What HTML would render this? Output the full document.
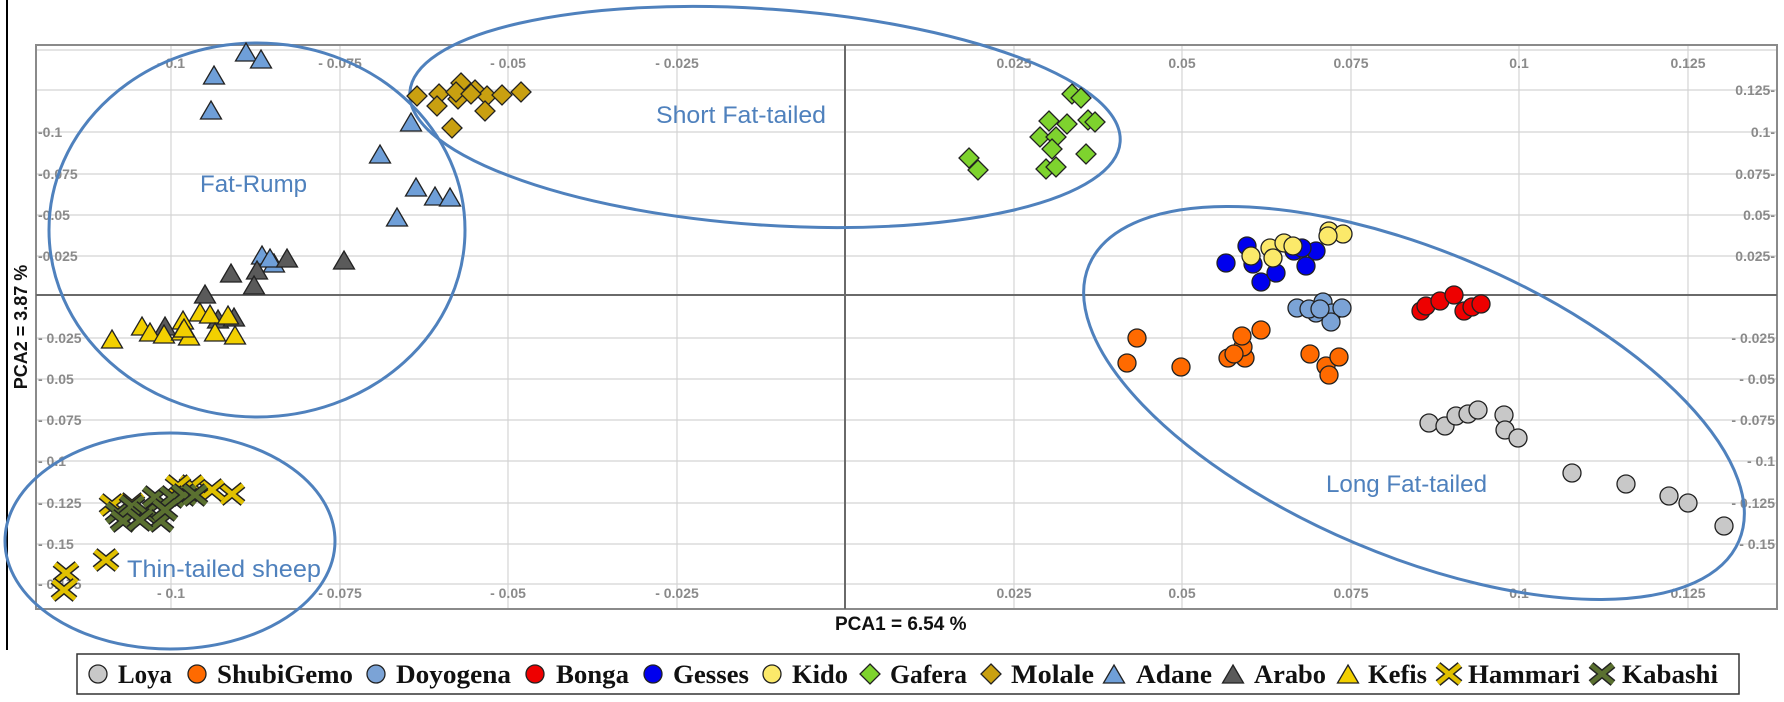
<!DOCTYPE html>
<html><head><meta charset="utf-8"><style>
html,body{margin:0;padding:0;background:#fff;}
svg{display:block;}
.tk{font-family:"Liberation Sans",sans-serif;font-size:14px;font-weight:bold;fill:#8a8a8a;}
.lb{font-family:"Liberation Sans",sans-serif;font-size:24px;fill:#4f81bd;}
.lg{font-family:"Liberation Serif",serif;font-size:26px;font-weight:bold;fill:#111;}
</style></head><body>
<svg width="1784" height="702" viewBox="0 0 1784 702" xmlns="http://www.w3.org/2000/svg">
<defs>
<polygon id="tri" points="0,-10 10.5,8 -10.5,8" stroke="#222" stroke-width="1.3"/>
<polygon id="dia" points="0,-10 10,0 0,10 -10,0" stroke="#222" stroke-width="1.3"/>
<g id="xm"><path d="M-11,-9 L11,9 M-11,9 L11,-9" stroke="#222" stroke-width="7.5"/><path d="M-11,-9 L11,9 M-11,9 L11,-9" stroke="currentColor" stroke-width="4.5"/></g>
</defs>
<line x1="7" y1="0" x2="7" y2="650" stroke="#000" stroke-width="2"/>
<g stroke="#d4d4d4" stroke-width="1.2">
<line x1="171" y1="45" x2="171" y2="609"/><line x1="340" y1="45" x2="340" y2="609"/><line x1="508" y1="45" x2="508" y2="609"/><line x1="677" y1="45" x2="677" y2="609"/>
<line x1="1014" y1="45" x2="1014" y2="609"/><line x1="1182" y1="45" x2="1182" y2="609"/><line x1="1351" y1="45" x2="1351" y2="609"/><line x1="1519" y1="45" x2="1519" y2="609"/><line x1="1688" y1="45" x2="1688" y2="609"/>
<line x1="36" y1="90" x2="1777" y2="90"/><line x1="36" y1="132" x2="1777" y2="132"/><line x1="36" y1="174" x2="1777" y2="174"/><line x1="36" y1="215" x2="1777" y2="215"/><line x1="36" y1="256" x2="1777" y2="256"/>
<line x1="36" y1="338" x2="1777" y2="338"/><line x1="36" y1="379" x2="1777" y2="379"/><line x1="36" y1="420" x2="1777" y2="420"/><line x1="36" y1="461" x2="1777" y2="461"/><line x1="36" y1="503" x2="1777" y2="503"/><line x1="36" y1="544" x2="1777" y2="544"/><line x1="36" y1="584" x2="1777" y2="584"/>
<line x1="36" y1="50" x2="1777" y2="50"/>
</g>
<rect x="36" y="45" width="1741" height="564" fill="none" stroke="#8a8a8a" stroke-width="2"/>
<line x1="845" y1="45" x2="845" y2="609" stroke="#6a6a6a" stroke-width="2"/>
<line x1="36" y1="295" x2="1777" y2="295" stroke="#6a6a6a" stroke-width="2"/>
<g class="tk" text-anchor="middle">
<text x="171" y="68">- 0.1</text><text x="340" y="68">- 0.075</text><text x="508" y="68">- 0.05</text><text x="677" y="68">- 0.025</text>
<text x="1014" y="68">0.025</text><text x="1182" y="68">0.05</text><text x="1351" y="68">0.075</text><text x="1519" y="68">0.1</text><text x="1688" y="68">0.125</text>
<text x="171" y="598">- 0.1</text><text x="340" y="598">- 0.075</text><text x="508" y="598">- 0.05</text><text x="677" y="598">- 0.025</text>
<text x="1014" y="598">0.025</text><text x="1182" y="598">0.05</text><text x="1351" y="598">0.075</text><text x="1519" y="598">0.1</text><text x="1688" y="598">0.125</text>
</g>
<g class="tk">
<text x="38" y="137">-0.1</text><text x="38" y="179">-0.075</text><text x="38" y="220">-0.05</text><text x="38" y="261">-0.025</text>
<text x="38" y="343">- 0.025</text><text x="38" y="384">- 0.05</text><text x="38" y="425">- 0.075</text><text x="38" y="466">- 0.1</text><text x="38" y="508">- 0.125</text><text x="38" y="549">- 0.15</text><text x="38" y="589">- 0.175</text>
</g>
<g class="tk" text-anchor="end">
<text x="1775" y="95">0.125-</text><text x="1775" y="137">0.1-</text><text x="1775" y="179">0.075-</text><text x="1775" y="220">0.05-</text><text x="1775" y="261">0.025-</text>
<text x="1775" y="343">- 0.025</text><text x="1775" y="384">- 0.05</text><text x="1775" y="425">- 0.075</text><text x="1775" y="466">- 0.1</text><text x="1775" y="508">- 0.125</text><text x="1775" y="549">- 0.15</text>
</g>
<text transform="translate(27,327) rotate(-90)" text-anchor="middle" style="font-family:'Liberation Sans',sans-serif;font-size:18px;font-weight:bold;fill:#111">PCA2 = 3.87 %</text>
<text x="835" y="630" style="font-family:'Liberation Sans',sans-serif;font-size:19px;font-weight:bold;fill:#111">PCA1 = 6.54 %</text>
<g fill="none" stroke="#4f81bd" stroke-width="3">
<ellipse cx="257" cy="230" rx="208" ry="187"/>
<ellipse cx="170" cy="541" rx="165" ry="108"/>
<ellipse cx="765" cy="117" rx="356" ry="108" transform="rotate(4 765 117)"/>
<ellipse cx="1414" cy="403" rx="353" ry="152" transform="rotate(23 1414 403)"/>
</g>
<g fill="#c9a010">
<use href="#dia" x="417" y="96"/><use href="#dia" x="439" y="94"/><use href="#dia" x="437" y="106"/><use href="#dia" x="458" y="99"/><use href="#dia" x="461" y="83"/><use href="#dia" x="475" y="90"/><use href="#dia" x="487" y="96"/><use href="#dia" x="502" y="95"/><use href="#dia" x="521" y="92"/><use href="#dia" x="485" y="111"/><use href="#dia" x="452" y="128"/><use href="#dia" x="456" y="92"/><use href="#dia" x="471" y="94"/>
</g>
<g fill="#7ed32e">
<use href="#dia" x="1072" y="94"/><use href="#dia" x="1081" y="98"/><use href="#dia" x="1049" y="121"/><use href="#dia" x="1067" y="124"/><use href="#dia" x="1088" y="120"/><use href="#dia" x="1095" y="122"/><use href="#dia" x="1040" y="137"/><use href="#dia" x="1056" y="137"/><use href="#dia" x="1052" y="149"/><use href="#dia" x="1086" y="154"/><use href="#dia" x="969" y="158"/><use href="#dia" x="978" y="170"/><use href="#dia" x="1046" y="169"/><use href="#dia" x="1056" y="167"/>
</g>
<g fill="#6f9fd8">
<use href="#tri" x="246" y="53"/><use href="#tri" x="261" y="60"/><use href="#tri" x="214" y="76"/><use href="#tri" x="211" y="111"/><use href="#tri" x="411" y="123"/><use href="#tri" x="380" y="155"/><use href="#tri" x="416" y="188"/><use href="#tri" x="435" y="197"/><use href="#tri" x="450" y="198"/><use href="#tri" x="397" y="218"/><use href="#tri" x="262" y="256"/><use href="#tri" x="274" y="264"/><use href="#tri" x="270" y="259"/>
</g>
<g fill="#5a5a5a">
<use href="#tri" x="344" y="261"/><use href="#tri" x="287" y="259"/><use href="#tri" x="231" y="274"/><use href="#tri" x="257" y="271"/><use href="#tri" x="254" y="286"/><use href="#tri" x="205" y="295"/><use href="#tri" x="218" y="320"/><use href="#tri" x="234" y="318"/><use href="#tri" x="165" y="327"/>
</g>
<g fill="#f2d000">
<use href="#tri" x="112" y="340"/><use href="#tri" x="142" y="327"/><use href="#tri" x="150" y="333"/><use href="#tri" x="164" y="335"/><use href="#tri" x="183" y="321"/><use href="#tri" x="182" y="332"/><use href="#tri" x="189" y="337"/><use href="#tri" x="200" y="313"/><use href="#tri" x="210" y="315"/><use href="#tri" x="215" y="333"/><use href="#tri" x="228" y="316"/><use href="#tri" x="235" y="336"/><use href="#tri" x="184" y="329"/>
</g>
<g color="#e0c000">
<use href="#xm" x="232" y="494"/><use href="#xm" x="212" y="490"/><use href="#xm" x="192" y="486"/><use href="#xm" x="178" y="486"/><use href="#xm" x="106" y="560"/><use href="#xm" x="66" y="573"/><use href="#xm" x="64" y="590"/><use href="#xm" x="132" y="504"/><use href="#xm" x="112" y="505"/>
</g>
<g color="#5a7030">
<use href="#xm" x="118" y="513"/><use href="#xm" x="132" y="506"/><use href="#xm" x="146" y="513"/><use href="#xm" x="161" y="521"/><use href="#xm" x="155" y="497"/><use href="#xm" x="172" y="497"/><use href="#xm" x="184" y="495"/><use href="#xm" x="195" y="495"/><use href="#xm" x="123" y="521"/><use href="#xm" x="140" y="520"/><use href="#xm" x="165" y="510"/>
</g>
<g stroke="#222" stroke-width="1.3">
<g fill="#0000ee"><circle cx="1226" cy="263" r="9"/><circle cx="1247" cy="246" r="9"/><circle cx="1253" cy="264" r="9"/><circle cx="1261" cy="282" r="9"/><circle cx="1276" cy="273" r="9"/><circle cx="1294" cy="251" r="9"/><circle cx="1306" cy="266" r="9"/><circle cx="1316" cy="251" r="9"/><circle cx="1302" cy="248" r="9"/></g>
<g fill="#fbe96a"><circle cx="1251" cy="256" r="9"/><circle cx="1270" cy="248" r="9"/><circle cx="1273" cy="258" r="9"/><circle cx="1284" cy="243" r="9"/><circle cx="1293" cy="246" r="9"/><circle cx="1329" cy="231" r="9"/><circle cx="1343" cy="234" r="9"/><circle cx="1328" cy="236" r="9"/></g>
<g fill="#7ba3d6"><circle cx="1297" cy="308" r="9"/><circle cx="1316" cy="313" r="9"/><circle cx="1323" cy="302" r="9"/><circle cx="1332" cy="313" r="9"/><circle cx="1342" cy="308" r="9"/><circle cx="1331" cy="322" r="9"/><circle cx="1309" cy="309" r="9"/><circle cx="1320" cy="309" r="9"/></g>
<g fill="#ee0000"><circle cx="1421" cy="311" r="9"/><circle cx="1426" cy="306" r="9"/><circle cx="1440" cy="301" r="9"/><circle cx="1454" cy="295" r="9"/><circle cx="1464" cy="311" r="9"/><circle cx="1472" cy="307" r="9"/><circle cx="1481" cy="304" r="9"/></g>
<g fill="#ff6a00"><circle cx="1137" cy="338" r="9"/><circle cx="1127" cy="363" r="9"/><circle cx="1181" cy="367" r="9"/><circle cx="1228" cy="358" r="9"/><circle cx="1245" cy="358" r="9"/><circle cx="1243" cy="347" r="9"/><circle cx="1242" cy="336" r="9"/><circle cx="1261" cy="330" r="9"/><circle cx="1310" cy="354" r="9"/><circle cx="1326" cy="366" r="9"/><circle cx="1339" cy="357" r="9"/><circle cx="1329" cy="375" r="9"/><circle cx="1234" cy="354" r="9"/></g>
<g fill="#c8c8c8"><circle cx="1429" cy="423" r="9"/><circle cx="1445" cy="426" r="9"/><circle cx="1456" cy="416" r="9"/><circle cx="1468" cy="414" r="9"/><circle cx="1478" cy="410" r="9"/><circle cx="1504" cy="415" r="9"/><circle cx="1505" cy="430" r="9"/><circle cx="1518" cy="438" r="9"/><circle cx="1572" cy="473" r="9"/><circle cx="1626" cy="484" r="9"/><circle cx="1669" cy="496" r="9"/><circle cx="1688" cy="503" r="9"/><circle cx="1724" cy="526" r="9"/></g>
</g>
<g class="lb">
<text x="200" y="192" textLength="107" lengthAdjust="spacingAndGlyphs">Fat-Rump</text>
<text x="656" y="123" textLength="170" lengthAdjust="spacingAndGlyphs">Short Fat-tailed</text>
<text x="127" y="577" textLength="194" lengthAdjust="spacingAndGlyphs">Thin-tailed sheep</text>
<text x="1326" y="492" textLength="161" lengthAdjust="spacingAndGlyphs">Long Fat-tailed</text>
</g>
<rect x="77" y="654" width="1662" height="40" fill="#fff" stroke="#333" stroke-width="1.5"/>
<g stroke="#222" stroke-width="1.3">
<circle cx="98" cy="674" r="9" fill="#c8c8c8"/>
<circle cx="197" cy="674" r="9" fill="#ff6a00"/>
<circle cx="376" cy="674" r="9" fill="#7ba3d6"/>
<circle cx="535" cy="674" r="9" fill="#ee0000"/>
<circle cx="653" cy="674" r="9" fill="#0000ee"/>
<circle cx="772" cy="674" r="9" fill="#fbe96a"/>
<use href="#dia" x="870" y="674" fill="#7ed32e"/>
<use href="#dia" x="991" y="674" fill="#c9a010"/>
<use href="#tri" x="1114" y="675" fill="#6f9fd8"/>
<use href="#tri" x="1233" y="675" fill="#5a5a5a"/>
<use href="#tri" x="1348" y="675" fill="#f2d000"/>
</g>
<use href="#xm" x="1449" y="674" color="#e0c000"/>
<use href="#xm" x="1602" y="674" color="#5a7030"/>
<g class="lg">
<text x="118" y="683" textLength="54" lengthAdjust="spacingAndGlyphs">Loya</text>
<text x="217" y="683" textLength="136" lengthAdjust="spacingAndGlyphs">ShubiGemo</text>
<text x="396" y="683" textLength="115" lengthAdjust="spacingAndGlyphs">Doyogena</text>
<text x="556" y="683" textLength="73" lengthAdjust="spacingAndGlyphs">Bonga</text>
<text x="673" y="683" textLength="76" lengthAdjust="spacingAndGlyphs">Gesses</text>
<text x="792" y="683" textLength="56" lengthAdjust="spacingAndGlyphs">Kido</text>
<text x="890" y="683" textLength="77" lengthAdjust="spacingAndGlyphs">Gafera</text>
<text x="1011" y="683" textLength="83" lengthAdjust="spacingAndGlyphs">Molale</text>
<text x="1136" y="683" textLength="76" lengthAdjust="spacingAndGlyphs">Adane</text>
<text x="1254" y="683" textLength="72" lengthAdjust="spacingAndGlyphs">Arabo</text>
<text x="1368" y="683" textLength="59" lengthAdjust="spacingAndGlyphs">Kefis</text>
<text x="1468" y="683" textLength="112" lengthAdjust="spacingAndGlyphs">Hammari</text>
<text x="1622" y="683" textLength="96" lengthAdjust="spacingAndGlyphs">Kabashi</text>
</g>
</svg>
</body></html>
